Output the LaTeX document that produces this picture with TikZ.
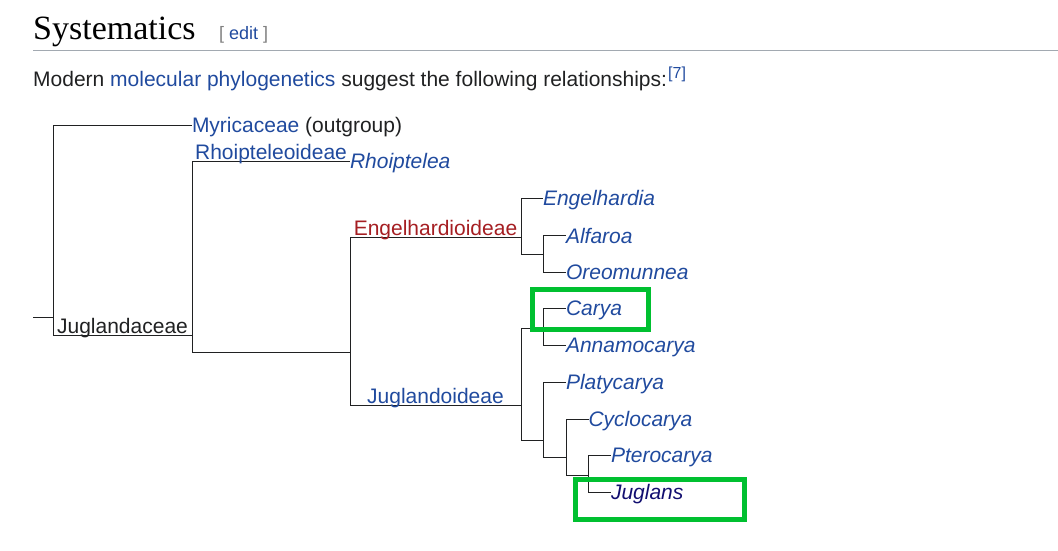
\documentclass[tikz,border=0pt]{standalone}
\usepackage{fontspec}
\setmainfont{Liberation Sans}
\newfontfamily\headfont{Liberation Serif}

\definecolor{linkblue}{RGB}{32,74,158}
\definecolor{visited}{RGB}{18,14,112}
\definecolor{redlink}{RGB}{165,30,34}
\definecolor{bodytext}{RGB}{32,33,34}
\definecolor{rulegray}{RGB}{162,169,177}
\definecolor{markgreen}{RGB}{0,192,48}

\tikzset{
  branch/.style={draw=bodytext, line width=1pt},
  leaf/.style={anchor=west, inner sep=0pt, outer sep=0pt, text height=15pt, text depth=0pt,
    text=linkblue, font=\fontsize{21}{25}\selectfont\itshape},
  cladelabel/.style={anchor=base, inner sep=0pt, yshift=2pt, font=\fontsize{21}{25}\selectfont},
  greenbox/.style={draw=markgreen, line width=5pt}
}

\begin{document}
\begin{tikzpicture}[x=1pt, y=-1pt]
          \useasboundingbox (0,0) rectangle (1058,551);

          % heading and intro line
          \node[anchor=base west, inner sep=0pt, font=\headfont\fontsize{34}{40}\selectfont, text=black] (title) at (33,40) {Systematics};
          \node[anchor=base west, inner sep=0pt, font=\fontsize{18}{22}\selectfont, text=gray] (edit) at (219,40) {[ \textcolor{linkblue}{edit} ]};
          \draw[rulegray, line width=1pt] (33,51) -- (1058,51);
          \node[anchor=base west, inner sep=0pt, font=\fontsize{21}{25}\selectfont, text=bodytext] (intro) at (33,86.5)
          {Modern \textcolor{linkblue}{molecular phylogenetics} suggest the following relationships:};
          \node[anchor=base west, inner sep=0pt, font=\fontsize{16}{19}\selectfont, text=linkblue] (ref) at (668,78) {[7]};

          % inner nodes of the tree
          \coordinate (stub) at (33,317);
          \coordinate (root) at (53,317);
          \coordinate (juga) at (192,335);
          \coordinate (core) at (350,352);
          \coordinate (engel) at (521,237);
          \coordinate (alfo) at (543,254);
          \coordinate (juglo) at (521,405);
          \coordinate (carann) at (543,328);
          \coordinate (platy) at (543,440);
          \coordinate (cyclo) at (566,457);
          \coordinate (ptero) at (588.5,475);

          % leaves
          \node[leaf, font=\fontsize{21}{25}\selectfont] (myr) at (192,125) {Myricaceae \textcolor{bodytext}{(outgroup)}};
          \node[leaf] (rhoi) at (350,161) {Rhoiptelea};
          \node[leaf] (engelhardia) at (543,198) {Engelhardia};
          \node[leaf] (alfaroa) at (566,235.5) {Alfaroa};
          \node[leaf] (oreo) at (566,272) {Oreomunnea};
          \node[leaf] (carya) at (566,308) {Carya};
          \node[leaf] (anna) at (566,345) {Annamocarya};
          \node[leaf] (platycarya) at (566,382) {Platycarya};
          \node[leaf] (cyclocarya) at (588.5,419) {Cyclocarya};
          \node[leaf] (pterocarya) at (611,455) {Pterocarya};
          \node[leaf, text=visited] (juglans) at (611,492) {Juglans};

          % branches
          \draw[branch] (stub) -- (root);
          \draw[branch] (root) |- (myr.west);
          \draw[branch] (root) |- (juga) node[cladelabel, pos=0.75, text=bodytext] (lbljuga) {Juglandaceae};
          \draw[branch] (juga) |- (rhoi.west) node[cladelabel, pos=0.75, text=linkblue] (lblrhoi) {Rhoipteleoideae};
          \draw[branch] (juga) |- (core);
          \draw[branch] (core) |- (engel) node[cladelabel, pos=0.75, text=redlink] (lblengel) {Engelhardioideae};
          \draw[branch] (core) |- (juglo) node[cladelabel, pos=0.75, text=linkblue] (lbljuglo) {Juglandoideae};
          \draw[branch] (engel) |- (engelhardia.west);
          \draw[branch] (engel) |- (alfo);
          \draw[branch] (alfo) |- (alfaroa.west);
          \draw[branch] (alfo) |- (oreo.west);
          \draw[branch] (juglo) |- (carann);
          \draw[branch] (juglo) |- (platy);
          \draw[branch] (carann) |- (carya.west);
          \draw[branch] (carann) |- (anna.west);
          \draw[branch] (platy) |- (platycarya.west);
          \draw[branch] (platy) |- (cyclo);
          \draw[branch] (cyclo) |- (cyclocarya.west);
          \draw[branch] (cyclo) |- (ptero);
          \draw[branch] (ptero) |- (pterocarya.west);
          \draw[branch] (ptero) |- (juglans.west);

          % green marks
          \draw[greenbox] (532.5,289.5) rectangle (648.5,329.5);
          \draw[greenbox] (575.5,479.5) rectangle (744.5,519.5);

\end{tikzpicture}
\end{document}
